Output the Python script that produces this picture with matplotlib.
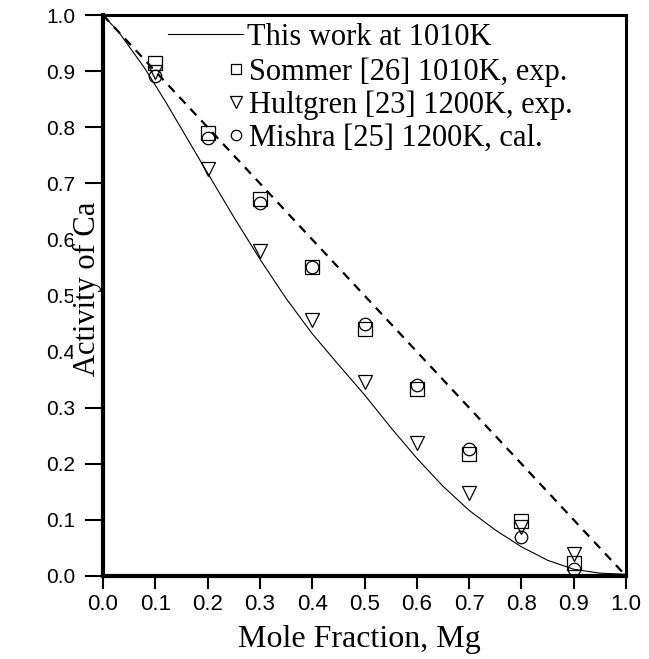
import matplotlib
matplotlib.use("Agg")
import matplotlib.pyplot as plt
from matplotlib.lines import Line2D

# Activity of Ca in Mg-Ca liquid
x_exp = [0.1, 0.2, 0.3, 0.4, 0.5, 0.6, 0.7, 0.8, 0.9]
a_sommer = [0.914, 0.790, 0.672, 0.551, 0.440, 0.333, 0.217, 0.098, 0.023]
a_hultgren = [0.898, 0.725, 0.579, 0.456, 0.346, 0.237, 0.148, 0.087, 0.039]
a_mishra = [0.891, 0.781, 0.665, 0.551, 0.449, 0.340, 0.226, 0.069, 0.012]

# calculated curve at 1010K
x_calc = [0.0, 0.03, 0.08, 0.12, 0.185, 0.25, 0.30, 0.35, 0.40, 0.45, 0.50,
          0.55, 0.60, 0.65, 0.70, 0.75, 0.80, 0.85, 0.90, 0.95, 1.0]
a_calc = [1.0, 0.97, 0.905, 0.845, 0.742, 0.640, 0.565, 0.495, 0.432, 0.377,
          0.323, 0.265, 0.210, 0.160, 0.117, 0.082, 0.052, 0.028, 0.012,
          0.005, 0.003]

# ideal (Raoult) line
x_ideal = [0.0, 1.0]
a_ideal = [1.0, 0.0]

ticks = [0.0, 0.1, 0.2, 0.3, 0.4, 0.5, 0.6, 0.7, 0.8, 0.9, 1.0]

serif = "Liberation Serif"
sans = "Liberation Sans"

fig = plt.figure(figsize=(6.49, 6.59), dpi=100)
ax = fig.add_axes([0.1587, 0.126, 0.8059, 0.851])

ax.plot(x_calc, a_calc, color="black", lw=0.8)
ax.plot(x_ideal, a_ideal, color="black", lw=1.6, linestyle=(0, (4.0, 3.2)))

mk = dict(linestyle="none", markerfacecolor="none", markeredgecolor="black",
          markeredgewidth=0.9)
ax.plot(x_exp, a_sommer, marker="s", markersize=9.5, **mk)
ax.plot(x_exp, a_hultgren, marker="v", markersize=10, **mk)
ax.plot(x_exp, a_mishra, marker="o", markersize=9, **mk)

ax.set_xlim(0, 1)
ax.set_ylim(0, 1)
ax.set_xticks(ticks)
ax.set_yticks(ticks)
ax.set_xticklabels([f"{t:.1f}" for t in ticks], fontfamily=sans, fontsize=16)
ax.set_yticklabels([f"{t:.1f}" for t in ticks], fontfamily=sans, fontsize=15)
ax.tick_params(axis="y", direction="out", length=13, width=1.5, pad=7)
ax.tick_params(axis="x", direction="out", length=9, width=1.5, pad=4)

for side in ["left", "bottom"]:
    ax.spines[side].set_linewidth(3)
for side in ["top", "right"]:
    ax.spines[side].set_linewidth(2.2)

ax.set_xlabel("Mole Fraction, Mg", fontfamily=serif, fontsize=23)
ax.set_ylabel("Activity of Ca", fontfamily=serif, fontsize=22,
              bbox=dict(facecolor="white", edgecolor="none", pad=0))
ax.xaxis.set_label_coords(0.49, -0.088)
ax.yaxis.set_label_coords(-0.001, 0.512)

# legend: line entry and marker entries laid out separately
leg_font = {"family": serif, "size": 22}
h_line = [Line2D([], [], color="black", lw=0.8)]
leg1 = ax.legend(h_line, ["This work at 1010K"], loc="upper left",
                 bbox_to_anchor=(0.124, 0.986), frameon=False, prop=leg_font,
                 handlelength=2.45, handletextpad=0.15, borderpad=0,
                 borderaxespad=0)
ax.add_artist(leg1)

mk_leg = dict(linestyle="none", markerfacecolor="none", markeredgecolor="black",
              markeredgewidth=0.9)
h_mk = [Line2D([], [], marker="s", markersize=6.5, **mk_leg),
        Line2D([], [], marker="v", markersize=8, **mk_leg),
        Line2D([], [], marker="o", markersize=7.5, **mk_leg)]
ax.legend(h_mk, ["Sommer [26] 1010K, exp.", "Hultgren [23] 1200K, exp.",
                 "Mishra [25] 1200K, cal."],
          loc="upper left", bbox_to_anchor=(0.236, 0.925), frameon=False,
          prop=leg_font, handlelength=0.6, handletextpad=0.13, borderpad=0,
          borderaxespad=0, labelspacing=0.12)

fig.savefig("out.png", dpi=100)
